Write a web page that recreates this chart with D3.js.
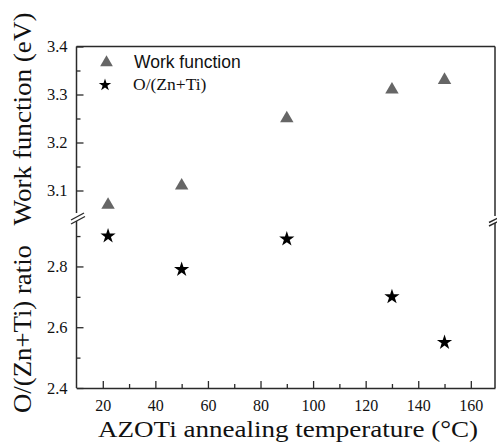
<!DOCTYPE html>
<html><head><meta charset="utf-8">
<script src="https://cdn.jsdelivr.net/npm/d3@7"></script>
<style>html,body{margin:0;padding:0;background:#fff;}svg{display:block;}
.tl text{font-family:"Liberation Serif","Times New Roman",serif;}</style>
</head><body>
<script>
const temperatures = [22, 50, 90, 130, 150];
const workFunction = [3.07, 3.11, 3.25, 3.31, 3.33];
const ozRatio = [2.90, 2.79, 2.89, 2.70, 2.55];
const xTicks = [20, 40, 60, 80, 100, 120, 140, 160];
const xMinorTicks = [30, 50, 70, 90, 110, 130, 150];
const topTicks = [3.1, 3.2, 3.3, 3.4];
const topMinorTicks = [3.15, 3.25, 3.35];
const botTicks = [2.4, 2.6, 2.8];
const botMinorTicks = [2.5, 2.7, 2.9];
const seriesNames = ["Work function", "O/(Zn+Ti)"];

const W = 497, H = 442;
const L = 76.5, R = 495, T = 46.5, B = 388, BRK = 216;
const svg = d3.select("body").append("svg").attr("width", W).attr("height", H);

const x = d3.scaleLinear().domain([10, 169.2]).range([L, R]);
const yTop = d3.scaleLinear().domain([3.05, 3.4]).range([214.5, T]);
const yBot = d3.scaleLinear().domain([2.4, 2.966]).range([B, BRK]);

const axisColor = "#2a2a2a";
const serif = "'Liberation Serif','Times New Roman',serif";

// frame: top
svg.append("line").attr("x1", L).attr("x2", R).attr("y1", T).attr("y2", T).attr("stroke", axisColor).attr("stroke-width", 1.5);
// left axis in two parts
svg.append("line").attr("x1", L).attr("x2", L).attr("y1", T).attr("y2", 213).attr("stroke", axisColor).attr("stroke-width", 1.5);
svg.append("line").attr("x1", L).attr("x2", L).attr("y1", 221).attr("y2", B).attr("stroke", axisColor).attr("stroke-width", 1.5);
// right axis in two parts
svg.append("line").attr("x1", R).attr("x2", R).attr("y1", T).attr("y2", 216).attr("stroke", axisColor).attr("stroke-width", 1.5);
svg.append("line").attr("x1", R).attr("x2", R).attr("y1", 223).attr("y2", B).attr("stroke", axisColor).attr("stroke-width", 1.5);
// break marks
[[71, 220, 84, 213], [71, 224, 85, 216.5]].forEach(d => {
  svg.append("line").attr("x1", d[0]).attr("y1", d[1]).attr("x2", d[2]).attr("y2", d[3]).attr("stroke", axisColor).attr("stroke-width", 1.4);
});
[[489, 222.5, 499, 217.5], [489, 226, 499, 221]].forEach(d => {
  svg.append("line").attr("x1", d[0]).attr("y1", d[1]).attr("x2", d[2]).attr("y2", d[3]).attr("stroke", axisColor).attr("stroke-width", 1.4);
});

// x axis
const xAxis = d3.axisBottom(x).tickValues(xTicks).tickSizeInner(-7).tickSizeOuter(0).tickPadding(12).tickFormat(d3.format("d"));
const gx = svg.append("g").attr("class", "tl").attr("transform", `translate(0,${B})`).call(xAxis);
gx.attr("font-family", serif).attr("font-size", 16);
gx.select(".domain").attr("stroke", axisColor).attr("stroke-width", 1.5);
gx.selectAll(".tick line").attr("stroke", axisColor).attr("stroke-width", 1.3);
gx.selectAll(".tick text").style("font-family", serif).style("font-size", "16px").attr("fill", "#111");
const gxm = svg.append("g").attr("transform", `translate(0,${B})`).call(d3.axisBottom(x).tickValues(xMinorTicks).tickSizeInner(-4).tickSizeOuter(0).tickFormat(""));
gxm.select(".domain").remove();
gxm.selectAll(".tick line").attr("stroke", axisColor).attr("stroke-width", 1.3);

function yAx(scale, ticks, minor) {
  const g = svg.append("g").attr("class", "tl").attr("transform", `translate(${L},0)`).call(d3.axisLeft(scale).tickValues(ticks).tickSizeInner(-7).tickSizeOuter(0).tickPadding(9).tickFormat(d3.format(".1f")));
  g.attr("font-family", serif).attr("font-size", 16);
  g.select(".domain").remove();
  g.selectAll(".tick line").attr("stroke", axisColor).attr("stroke-width", 1.3);
  g.selectAll(".tick text").style("font-family", serif).style("font-size", "16.5px").attr("fill", "#111");
  const gm = svg.append("g").attr("transform", `translate(${L},0)`).call(d3.axisLeft(scale).tickValues(minor).tickSizeInner(-4).tickSizeOuter(0).tickFormat(""));
  gm.select(".domain").remove();
  gm.selectAll(".tick line").attr("stroke", axisColor).attr("stroke-width", 1.3);
}
yAx(yTop, topTicks, topMinorTicks);
yAx(yBot, botTicks, botMinorTicks);

// data points
const tri = d3.symbol().type(d3.symbolTriangle).size(78);
const star = d3.symbol().type(d3.symbolStar).size(72);
svg.append("g").selectAll("path").data(temperatures).join("path")
  .attr("d", tri).attr("fill", "#666")
  .attr("transform", (d, i) => `translate(${x(d)},${yTop(workFunction[i])})`);
svg.append("g").selectAll("path").data(temperatures).join("path")
  .attr("d", star).attr("fill", "#000")
  .attr("transform", (d, i) => `translate(${x(d)},${yBot(ozRatio[i])})`);

// legend
svg.append("path").attr("d", d3.symbol().type(d3.symbolTriangle).size(70)).attr("fill", "#666").attr("transform", "translate(106.5,62.5)");
svg.append("path").attr("d", d3.symbol().type(d3.symbolStar).size(48)).attr("fill", "#000").attr("transform", "translate(105,85)");
svg.append("text").attr("x", 134).attr("y", 67.5).attr("font-family", "'Liberation Sans',Arial,sans-serif").attr("font-size", 17.5).attr("fill", "#111").text(seriesNames[0]);
svg.append("text").attr("x", 133).attr("y", 90).attr("font-family", serif).attr("font-size", 17.5).attr("fill", "#111").text(seriesNames[1]);

// titles
svg.append("text").attr("x", 288).attr("y", 437).attr("text-anchor", "middle").attr("font-family", serif).attr("font-size", 24).attr("fill", "#111")
  .attr("textLength", 380).attr("lengthAdjust", "spacingAndGlyphs").text("AZOTi annealing temperature (°C)");
svg.append("text").attr("transform", "translate(31,119) rotate(-90)").attr("text-anchor", "middle").attr("font-family", serif).attr("font-size", 25).attr("fill", "#111")
  .attr("textLength", 213).attr("lengthAdjust", "spacingAndGlyphs").text("Work function (eV)");
svg.append("text").attr("transform", "translate(31,329) rotate(-90)").attr("text-anchor", "middle").attr("font-family", serif).attr("font-size", 25).attr("fill", "#111")
  .attr("textLength", 168).attr("lengthAdjust", "spacingAndGlyphs").text("O/(Zn+Ti) ratio");
</script>
</body></html>
